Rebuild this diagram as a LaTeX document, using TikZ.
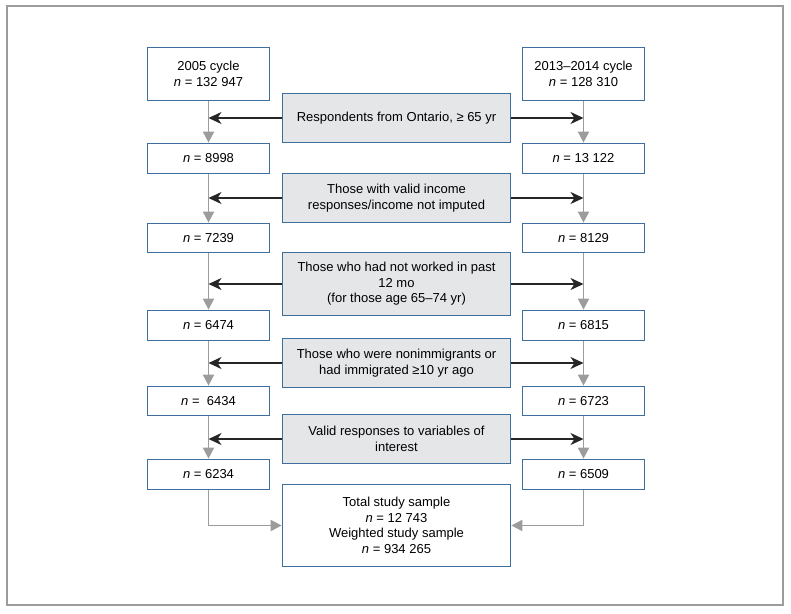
\documentclass[tikz,border=0pt]{standalone}
\usepackage{fontspec}
\setmainfont{Liberation Sans}
\usetikzlibrary{arrows.meta}
\definecolor{boxblue}{HTML}{3D6E9E}
\definecolor{filtgray}{HTML}{E5E6E8}
\definecolor{flowgray}{HTML}{9C9C9C}

\begin{document}
\begin{tikzpicture}[x=1pt, y=-1pt,
    every node/.style={font=\fontsize{13}{15.5}\selectfont, align=center, inner sep=2pt},
    countbox/.style={draw=boxblue, line width=1.7pt, fill=white, minimum width=122pt},
    filterbox/.style={draw=boxblue, line width=1.7pt, fill=filtgray, minimum width=228pt, minimum height=49pt},
    flow/.style={draw=flowgray, line width=1.8pt, -{Triangle[width=11pt,length=11pt]}},
    cut/.style={draw=black!85, line width=1.8pt, -{Stealth[width=12pt,length=13pt,inset=4pt]}}]
    \useasboundingbox (0,0) rectangle (791,613);
    \draw[flowgray, line width=1.8pt] (7,6) rectangle (783,605);

    % cycle counts
    \node[countbox, minimum height=53pt] (a0) at (208.5,74) {2005 cycle\\\textit{n} = 132 947};
    \node[countbox, minimum height=53pt] (b0) at (583.5,74) {2013–2014 cycle\\\textit{n} = 128 310};
    \node[countbox, minimum height=30pt] (a1) at (208.5,158.5) {\textit{n} = 8998};
    \node[countbox, minimum height=30pt] (b1) at (583.5,158.5) {\textit{n} = 13 122};
    \node[countbox, minimum height=29pt] (a2) at (208.5,238) {\textit{n} = 7239};
    \node[countbox, minimum height=29pt] (b2) at (583.5,238) {\textit{n} = 8129};
    \node[countbox, minimum height=30pt] (a3) at (208.5,325.5) {\textit{n} = 6474};
    \node[countbox, minimum height=30pt] (b3) at (583.5,325.5) {\textit{n} = 6815};
    \node[countbox, minimum height=29pt] (a4) at (208.5,401) {\textit{n} =\ \ 6434};
    \node[countbox, minimum height=29pt] (b4) at (583.5,401) {\textit{n} = 6723};
    \node[countbox, minimum height=30pt] (a5) at (208.5,474.5) {\textit{n} = 6234};
    \node[countbox, minimum height=30pt] (b5) at (583.5,474.5) {\textit{n} = 6509};

    % exclusion steps
    \node[filterbox] (f1) at (396.5,118) {Respondents from Ontario, ≥ 65 yr};
    \node[filterbox] (f2) at (396.5,198) {Those with valid income\\responses/income not imputed};
    \node[filterbox, minimum height=63pt] (f3) at (396.5,284) {Those who had not worked in past\\12 mo\\(for those age 65–74 yr)};
    \node[filterbox] (f4) at (396.5,363) {Those who were nonimmigrants or\\had immigrated ≥10 yr ago};
    \node[filterbox] (f5) at (396.5,439) {Valid responses to variables of\\interest};

    \node[countbox, minimum width=228pt, minimum height=82pt] (tot) at (396.5,525.5)
        {Total study sample\\\textit{n} = 12 743\\Weighted study sample\\\textit{n} = 934 265};

    \foreach \i/\j in {0/1,1/2,2/3,3/4,4/5} {
        \draw[flow] (a\i.south) -- (a\j.north);
        \draw[flow] (b\i.south) -- (b\j.north);
    }
    \foreach \k in {1,...,5} {
        \draw[cut] (f\k.west) -- (f\k.west -| a0.south);
        \draw[cut] (f\k.east) -- (f\k.east -| b0.south);
    }
    \draw[flow] (a5.south) |- (tot.west);
    \draw[flow] (b5.south) |- (tot.east);
\end{tikzpicture}
\end{document}
